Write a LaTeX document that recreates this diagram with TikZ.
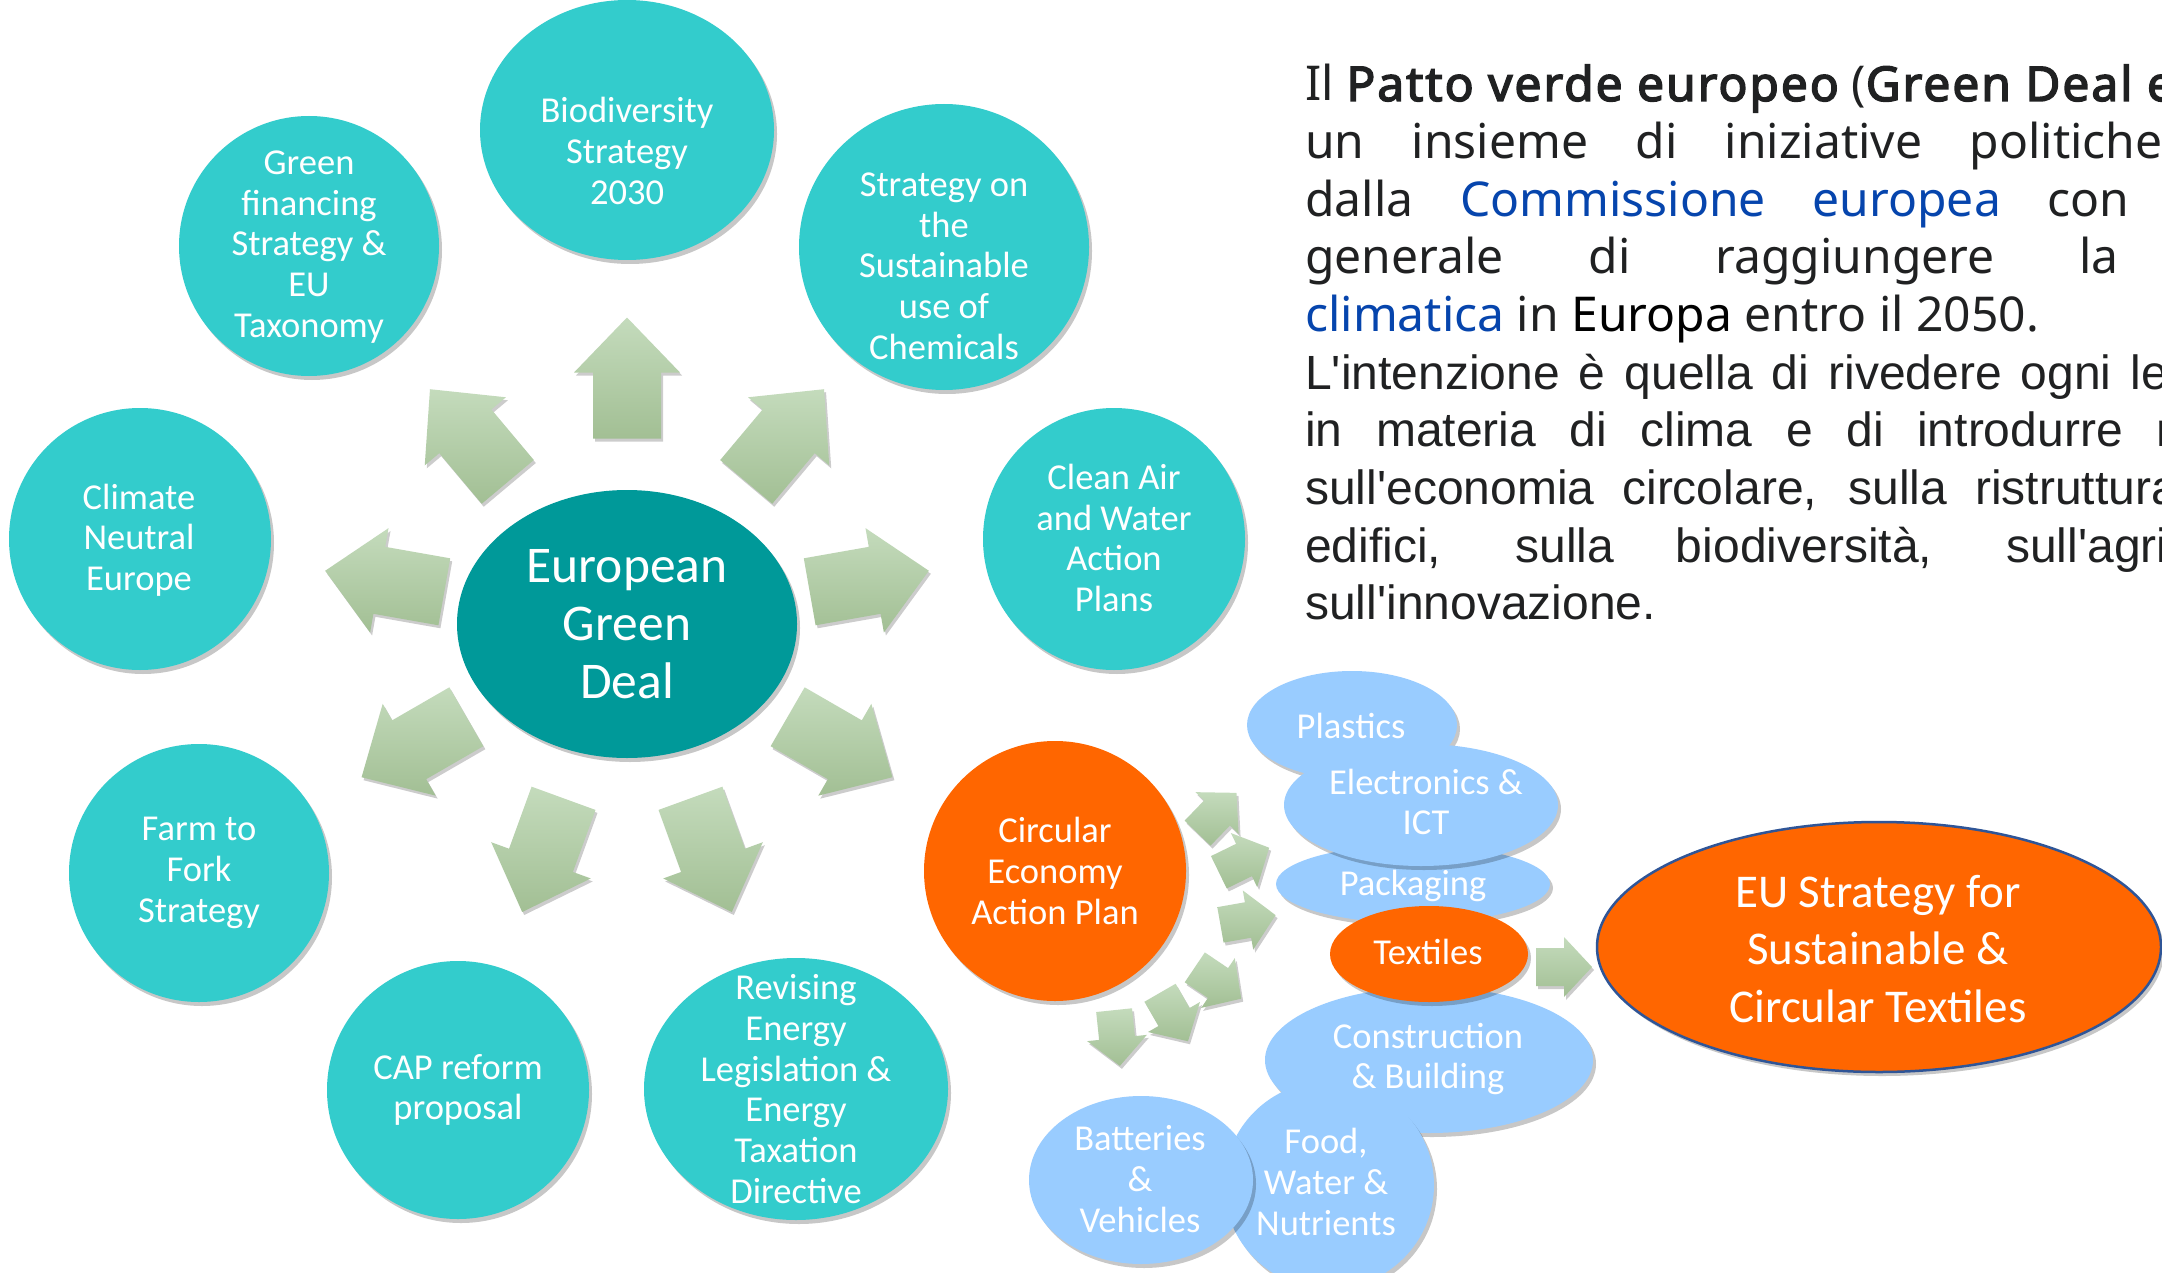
\documentclass[tikz,border=0pt]{standalone}
\usepackage{fontspec}
\setmainfont{Carlito}
\newfontfamily\notofont{Noto Sans}[Ligatures=TeXOff]
\newfontfamily\notobold{Noto Sans}[Ligatures=TeXOff,FakeBold=3,LetterSpace=4]
\newfontfamily\arialfont{Liberation Sans}[Ligatures=TeXOff]
\usetikzlibrary{shapes.geometric,shadows,calc}

\definecolor{cTeal}{HTML}{33CCCC}
\definecolor{cDark}{HTML}{009999}
\definecolor{cOrange}{HTML}{FF6600}
\definecolor{cBlue}{HTML}{99CCFF}
\definecolor{cBorder}{HTML}{2F5597}
\definecolor{cLink}{HTML}{0645AD}
\definecolor{cText}{HTML}{202122}
\definecolor{gTop}{HTML}{C4DBBC}
\definecolor{gBot}{HTML}{A2BF94}

\tikzset{
  shad/.style={drop shadow={shadow xshift=3pt,shadow yshift=-4pt,opacity=0.22,fill=black}},
  blob/.style={ellipse, inner sep=0pt, outer sep=0pt, shad},
  tealc/.style={blob, fill=cTeal},
  darkc/.style={blob, fill=cDark},
  orangec/.style={blob, fill=cOrange},
  bluec/.style={blob, fill=cBlue},
  ctext/.style={text=white, align=center, inner sep=0pt, font=\fontsize{36.5}{40.7}\selectfont},
  btext/.style={text=white, align=center, inner sep=0pt, font=\fontsize{51.5}{58}\selectfont},
  etext/.style={text=white, align=center, inner sep=0pt, font=\fontsize{47}{57.3}\selectfont},
  ptext/.style={anchor=base west, inner sep=0pt, text=cText, font=\notofont\fontsize{48}{57.6}\selectfont},
  atext/.style={anchor=base west, inner sep=0pt, text=cText, font=\arialfont\fontsize{48}{57.6}\selectfont},
  arrowsty/.style={top color=gTop, bottom color=gBot, draw=none,
    drop shadow={shadow xshift=2pt,shadow yshift=-3pt,opacity=0.2,fill=black}}
}

\newcommand\boldnoto[1]{{\notobold\fontsize{48}{57.6}\selectfont #1}}

% block arrow: #1 centre coordinate, #2 angle (image, clockwise), #3 half length,
% #4 head length, #5 head half width, #6 shaft half width
\newcommand\garrow[6]{%
  \pgfmathsetmacro\gA{#2}\pgfmathsetmacro\gP{#2+90}\pgfmathsetmacro\gM{#2-90}%
  \pgfmathsetmacro\gL{#3}\pgfmathsetmacro\gB{#3-#4}%
  \shade[arrowsty] ($(#1)+(\gA:-\gL)+(\gP:#6)$) -- ($(#1)+(\gA:\gB)+(\gP:#6)$)
    -- ($(#1)+(\gA:\gB)+(\gP:#5)$) -- ($(#1)+(\gA:\gL)$)
    -- ($(#1)+(\gA:\gB)+(\gM:#5)$) -- ($(#1)+(\gA:\gB)+(\gM:#6)$)
    -- ($(#1)+(\gA:-\gL)+(\gM:#6)$) -- cycle;}

\begin{document}
\begin{tikzpicture}[x=1pt,y=-1pt]
\useasboundingbox (0,0) rectangle (2162,1273);
\fill[white] (0,0) rectangle (2162,1273);
\clip (0,0) rectangle (2162,1273);

% ---- outer teal circles ----
\node[tealc, minimum width=294pt, minimum height=260pt] (bio) at (627,130) {};
\node[tealc, minimum width=260pt, minimum height=260pt] (fin) at (309,246) {};
\node[tealc, minimum width=290pt, minimum height=286pt] (chem) at (944,247) {};
\node[tealc, minimum width=262pt, minimum height=262pt] (clim) at (140,539) {};
\node[tealc, minimum width=262pt, minimum height=262pt] (air) at (1114,539) {};
\node[tealc, minimum width=260pt, minimum height=258pt] (farm) at (199,873) {};
\node[tealc, minimum width=262pt, minimum height=258pt] (cap) at (458,1090) {};
\node[tealc, minimum width=304pt, minimum height=262pt] (energy) at (796,1089) {};

% ---- centre ----
\node[darkc, minimum width=340pt, minimum height=268pt] (egd) at (627,624) {};

% ---- radial arrows ----
\foreach \a [count=\i] in {-90,-130,-170,150,110,70,30,-10,-50}{
  \coordinate (ga\i) at ($(egd.center)+(\a:246)$);
  \garrow{ga\i}{\a}{60.5}{55}{53}{34}
}

% ---- circular economy cluster ----
\node[orangec, minimum width=262pt, minimum height=260pt] (ce) at (1055,871) {};
\node[bluec, minimum width=210pt, minimum height=108pt] (plast) at (1352,725) {};
\node[bluec, minimum width=274pt, minimum height=78pt] (pack) at (1413,884) {};
\node[bluec, minimum width=274pt, minimum height=122pt] (elec) at (1421,805) {};
\node[bluec, minimum width=328pt, minimum height=146pt] (constr) at (1429,1060) {};
\node[orangec, minimum width=198pt, minimum height=96pt] (tex) at (1429,954) {};
\node[bluec, minimum width=210pt, minimum height=208pt] (food) at (1329,1185) {};
\node[bluec, minimum width=224pt, minimum height=168pt] (batt) at (1141,1180) {};

% small arrows from the Circular Economy Action Plan
\coordinate (sa1) at (1217,813);
\coordinate (sa2) at (1244,860);
\coordinate (sa3) at (1248,920);
\coordinate (sa4) at (1218,983);
\coordinate (sa5) at (1174,1017);
\coordinate (sa6) at (1117,1038);
\garrow{sa1}{-46}{28}{28}{30}{18}
\garrow{sa2}{-26}{28}{28}{30}{18}
\garrow{sa3}{-10}{28}{28}{30}{18}
\garrow{sa4}{34}{28}{28}{30}{18}
\garrow{sa5}{60}{28}{28}{30}{18}
\garrow{sa6}{84}{28}{28}{30}{18}

% ---- EU strategy ----
\node[orangec, draw=cBorder, line width=2.5pt, minimum width=564pt, minimum height=250pt] (eu) at (1879,947) {};
\coordinate (ta) at (1564,967);
\garrow{ta}{0}{28}{28}{30}{19}

% ---- texts in shapes ----
\node[ctext] (bio-t) at (627,151) {Biodiversity\\Strategy\\2030};
\node[ctext] (fin-t) at (309,247) {Green\\financing\\Strategy \&\\EU\\Taxonomy};
\node[ctext] (chem-t) at (944,266) {Strategy on\\the\\Sustainable\\use of\\Chemicals};
\node[ctext] (clim-t) at (139,540) {Climate\\Neutral\\Europe};
\node[ctext] (air-t) at (1114,538) {Clean Air\\and Water\\Action\\Plans};
\node[btext] (egd-t) at (627,624) {European\\Green\\Deal};
\node[ctext] (farm-t) at (199,873) {Farm to\\Fork\\Strategy};
\node[ctext] (cap-t) at (458,1090) {CAP reform\\proposal};
\node[ctext] (energy-t) at (796,1089) {Revising\\Energy\\Legislation \&\\Energy\\Taxation\\Directive};
\node[ctext] (ce-t) at (1055,871) {Circular\\Economy\\Action Plan};
\node[ctext] (plast-t) at (1351,726) {Plastics};
\node[ctext] (elec-t) at (1426,802) {Electronics \&\\ICT};
\node[ctext] (pack-t) at (1413,886) {Packaging};
\node[ctext] (tex-t) at (1428,952) {Textiles};
\node[ctext] (constr-t) at (1428,1059) {Construction\\\& Building};
\node[ctext] (batt-t) at (1140,1179) {Batteries\\\&\\Vehicles};
\node[ctext] (food-t) at (1326,1182) {Food,\\Water \&\\Nutrients};
\node[etext] (eu-t) at (1878,949) {EU Strategy for\\Sustainable \&\\Circular Textiles};

% ---- paragraph ----
\node[ptext] (p1) at (1305,101) {Il \boldnoto{Patto verde europeo} (\boldnoto{Green Deal europeo}) è};
\node[ptext] (p2) at (1305,158.65) {\makebox[1108pt][s]{un insieme di iniziative politiche proposte}};
\node[ptext] (p3) at (1305,216.3) {\makebox[1090pt][s]{dalla {\color{cLink}Commissione europea} con l'obiettivo}};
\node[ptext] (p4) at (1305,273.95) {\makebox[1117pt][s]{generale di raggiungere la {\color{cLink}neutralità}}};
\node[ptext] (p5) at (1305,331.6) {{\color{cLink}climatica} in {\color{black}Europa} entro il 2050.};
\node[atext] (p6) at (1305,389.25) {\makebox[1117pt][s]{L'intenzione è quella di rivedere ogni legge vigente}};
\node[atext] (p7) at (1305,446.9) {\makebox[1117pt][s]{in materia di clima e di introdurre nuove leggi}};
\node[atext] (p8) at (1305,504.55) {\makebox[1117pt][s]{sull'economia circolare, sulla ristrutturazione degli}};
\node[atext] (p9) at (1305,562.2) {\makebox[1095pt][s]{edifici, sulla biodiversità, sull'agricoltura e}};
\node[atext] (p10) at (1305,619.85) {sull'innovazione.};
\end{tikzpicture}
\end{document}
